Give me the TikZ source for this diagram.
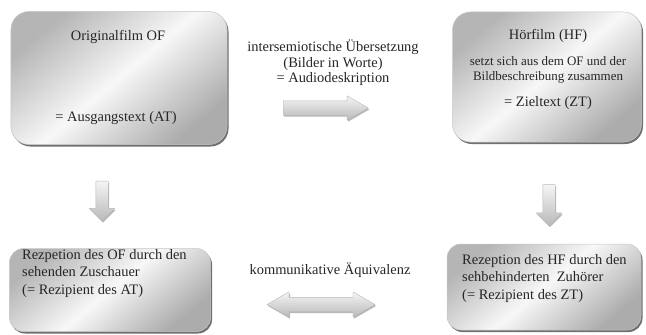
\documentclass[tikz,border=0pt]{standalone}
\usepackage{fontspec}
\setmainfont{Liberation Serif}
\usetikzlibrary{shapes.arrows,shadows}

\begin{document}
\begin{tikzpicture}[x=1bp, y=1bp,
  film box/.style={draw=gray!45, line width=0.5bp, rounded corners=18bp, top color=gray!58, bottom color=gray!65, middle color=gray!6, shading angle=40, drop shadow={shadow xshift=1.5bp, shadow yshift=-2bp, fill=gray!75!black, opacity=0.9}},
  grey arrow/.style={draw=gray!55, line width=0.4bp, inner sep=7bp, top color=gray!8, bottom color=gray!55, drop shadow={shadow xshift=1bp, shadow yshift=-1.5bp, fill=gray!70, opacity=0.8}},
  label text/.style={text=black!85, inner sep=0pt, font=\fontsize{14.5}{17.5}\selectfont}]

  \useasboundingbox (0,0) rectangle (646,334);

  \node[film box, minimum width=216bp, minimum height=133bp] (of) at (119,256) {};
  \node[film box, minimum width=189bp, minimum height=130bp] (hf) at (547,257) {};
  \node[film box, rounded corners=14bp, minimum width=201bp, minimum height=83bp] (rof) at (110,44) {};
  \node[film box, rounded corners=14bp, minimum width=194bp, minimum height=86bp] (rhf) at (544,47) {};

  \node[label text] (oft) at (118,297) {Originalfilm OF};
  \node[label text] (ofz) at (116,216) {= Ausgangstext (AT)};
  \node[label text] (hft) at (548,298) {Hörfilm (HF)};
  \node[label text, align=center, font=\fontsize{13}{14.5}\selectfont] (hfm) at (548,264) {setzt sich aus dem OF und der\\Bildbeschreibung zusammen};
  \node[label text] (hfz) at (548,231) {= Zieltext (ZT)};
  \node[label text, align=center, font=\fontsize{14.5}{15.5}\selectfont] (ad) at (333,271) {intersemiotische Übersetzung\\(Bilder in Worte)\\= Audiodeskription};
  \node[label text, align=left, anchor=north west] (roft) at (22,85) {Rezpetion des OF durch den\\sehenden Zuschauer\\(= Rezipient des AT)};
  \node[label text, align=left, anchor=north west] (rhft) at (462,80) {Rezeption des HF durch den\\sehbehinderten\ \ Zuhörer\\(= Rezipient des ZT)};
  \node[label text] (ka) at (330,64) {kommunikative Äquivalenz};

  \node[grey arrow, single arrow, single arrow head extend=5bp, single arrow tip angle=60, minimum height=85bp, minimum width=24bp] (adarrow) at (319.5,226) {};
  \node[grey arrow, single arrow, rotate=-90, inner sep=6bp, single arrow head extend=6.5bp, minimum height=40bp, minimum width=25bp] (ofarrow) at (102,136) {};
  \node[grey arrow, single arrow, rotate=-90, inner sep=6bp, single arrow head extend=6.5bp, minimum height=41bp, minimum width=25bp] (hfarrow) at (549,132) {};
  \node[grey arrow, double arrow, double arrow head extend=5.5bp, double arrow tip angle=60, minimum height=108bp, minimum width=25bp] (kaarrow) at (321,29.5) {};

\end{tikzpicture}
\end{document}
